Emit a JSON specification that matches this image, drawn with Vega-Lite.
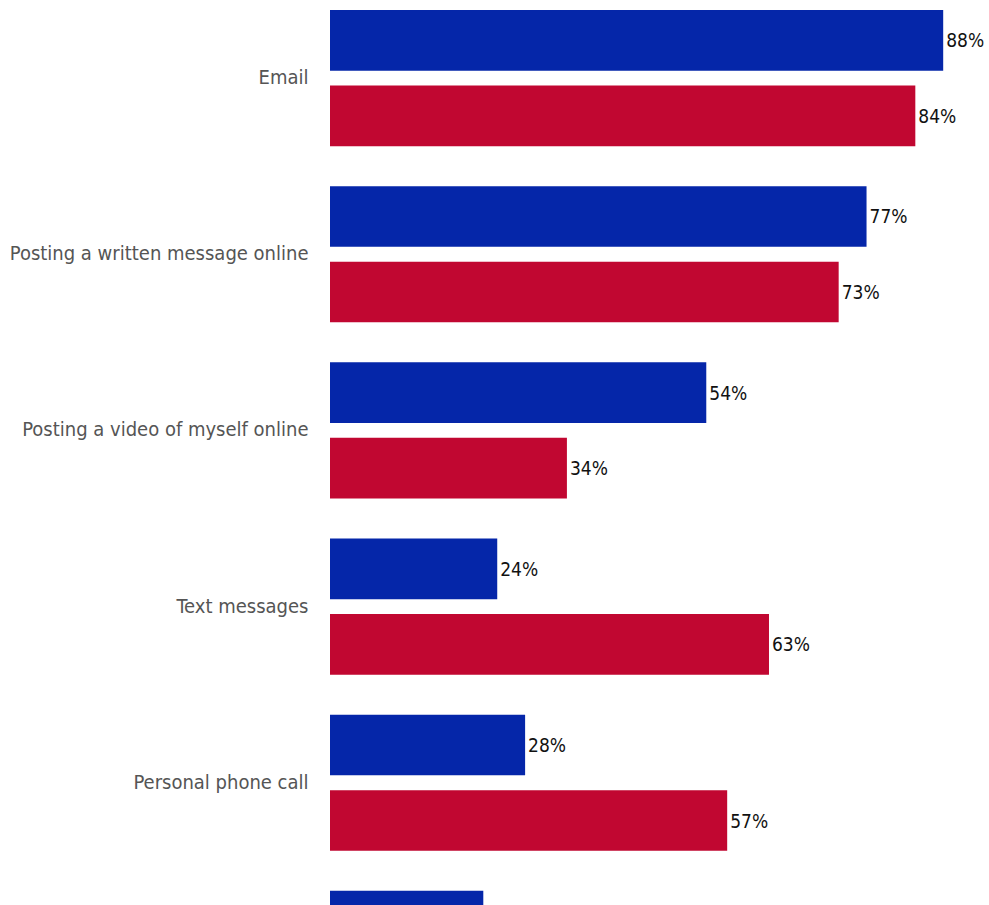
{
  "$schema": "https://vega.github.io/schema/vega-lite/v6.json",
  "autosize": "none",
  "padding": {"left": 330, "top": 0, "right": 0, "bottom": 0},
  "width": 655,
  "height": 1037,
  "background": "white",
  "config": {"view": {"stroke": null}},
  "data": {
    "values": [
      {"category": "Email", "series": "Series 1", "value": 0.88},
      {"category": "Email", "series": "Series 2", "value": 0.84},
      {"category": "Posting a written message online", "series": "Series 1", "value": 0.77},
      {"category": "Posting a written message online", "series": "Series 2", "value": 0.73},
      {"category": "Posting a video of myself online", "series": "Series 1", "value": 0.54},
      {"category": "Posting a video of myself online", "series": "Series 2", "value": 0.34},
      {"category": "Text messages", "series": "Series 1", "value": 0.24},
      {"category": "Text messages", "series": "Series 2", "value": 0.63},
      {"category": "Personal phone call", "series": "Series 1", "value": 0.28},
      {"category": "Personal phone call", "series": "Series 2", "value": 0.57},
      {"category": "Other", "series": "Series 1", "value": 0.22}
    ]
  },
  "encoding": {
    "y": {
      "field": "category", "type": "nominal", "sort": null,
      "scale": {"paddingInner": 0.227, "paddingOuter": 0.0568},
      "axis": {"title": null, "ticks": false, "domain": false, "labelPadding": 22, "labelFontSize": 20, "labelColor": "#555555", "labelFont": "DejaVu Sans Condensed, Liberation Sans Narrow, sans-serif", "labelLimit": 400}
    },
    "yOffset": {
      "field": "series", "type": "nominal", "sort": ["Series 1", "Series 2"],
      "scale": {"paddingInner": 0.197, "paddingOuter": 0}
    },
    "x": {
      "field": "value", "type": "quantitative",
      "scale": {"domain": [0, 0.94], "nice": false},
      "axis": null
    }
  },
  "layer": [
    {
      "mark": {"type": "bar"},
      "encoding": {
        "color": {
          "field": "series", "type": "nominal",
          "scale": {"domain": ["Series 1", "Series 2"], "range": ["#0526A9", "#C10731"]},
          "legend": null
        }
      }
    },
    {
      "mark": {"type": "text", "align": "left", "baseline": "middle", "dx": 3, "dy": 1, "fontSize": 19, "font": "DejaVu Sans Condensed, Liberation Sans Narrow, sans-serif", "color": "#111111"},
      "encoding": {
        "text": {"field": "value", "type": "quantitative", "format": ".0%"}
      }
    }
  ]
}
